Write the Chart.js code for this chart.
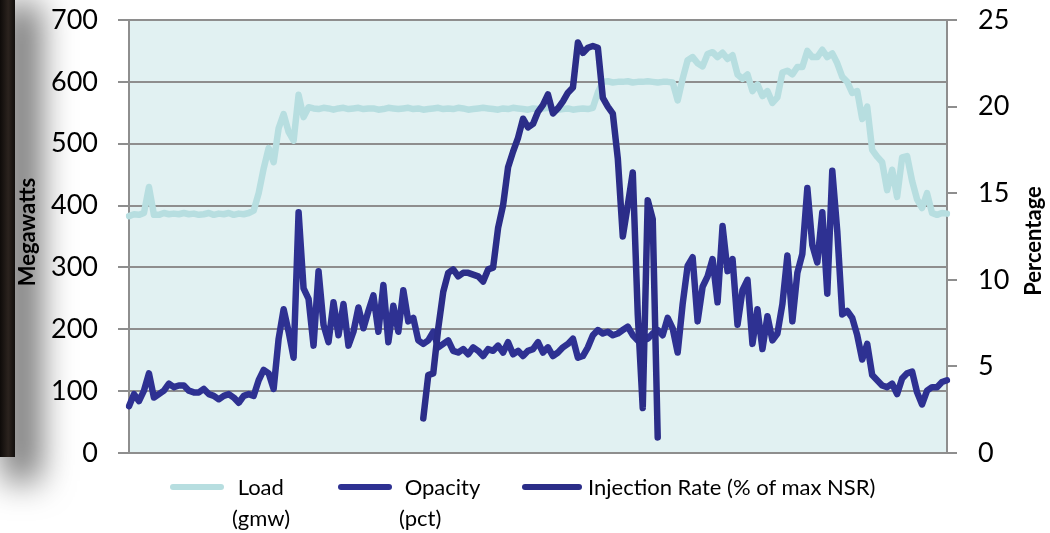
<!DOCTYPE html>
<html>
<head>
<meta charset="utf-8">
<script src="https://cdn.jsdelivr.net/npm/chart.js@4/dist/chart.umd.min.js"></script>
<style>
  body { margin: 0; background: #fff; }
  #wrap { position: relative; width: 1050px; height: 533px; overflow: hidden; }
  #edge { position: absolute; left: 0; top: 0; width: 15px; height: 457px;
          background: linear-gradient(to right, #0e0b09, #2b231e 55%, #120f0d);
          box-shadow: 14px 14px 34px 10px rgba(0,0,0,0.6); }
  canvas { position: absolute; left: 0; top: 0; }
  .leg { position: absolute; font-family: Lato, sans-serif; font-size: 22px; color: #000; line-height: 31px; }
  .sw { position: absolute; height: 6px; border-radius: 3px; }
</style>
</head>
<body>
<div id="wrap">
  <div id="edge"></div>
  <canvas id="chart" width="1050" height="533"></canvas>
  <div class="sw" style="left:170px; top:484px; width:54px; background:#b7dee0"></div>
  <div class="leg" style="left:232px; top:471px">&nbsp;Load<br>(gmw)</div>
  <div class="sw" style="left:338px; top:484px; width:54px; background:#2e3192"></div>
  <div class="leg" style="left:399px; top:471px">&nbsp;Opacity<br>(pct)</div>
  <div class="sw" style="left:522px; top:484px; width:60px; background:#2b2d88"></div>
  <div class="leg" style="left:588px; top:471px">Injection Rate (% of max NSR)</div>
</div>
<script>
// samples across the test period (one every ~5 px of the original plot)
const loadMW = [
  383,386,385,388,430,385,385,388,386,387,386,388,386,387,385,386,388,385,387,386,388,385,387,386,388,
  392,420,460,493,470,525,548,519,505,579,543,559,
  557,556,558,557,555,557,558,556,557,558,
  556,557,557,555,556,558,557,556,557,558,
  556,557,555,556,557,558,556,557,556,558,
  557,555,556,557,558,557,556,555,557,556,
  558,557,556,555,557,556,557,558,556,555,
  556,557,555,556,557,556,
  558,583,600,601,599,600,600,601,599,600,600,601,600,599,600,600,599,
  570,605,635,640,630,625,645,648,640,647,637,643,612,605,612,585,596,577,585,566,575,615,618,612,624,624,650,640,
  640,652,640,646,630,608,600,582,585,540,560,490,479,470,425,458,414,478,480,440,410,396,420,388,385,388,387
];
const opacityPct = [
  2.7,3.4,3.0,3.6,4.6,3.2,3.4,3.6,4.0,3.8,3.9,3.9,3.6,3.5,3.5,3.7,3.4,3.3,3.1,3.3,3.4,3.2,2.9,3.3,3.4,3.3,
  4.2,4.8,4.6,3.7,6.6,8.3,7.0,5.5,13.9,9.5,8.9,6.2,
  10.5,7.4,6.4,8.7,6.8,8.6,6.2,7.0,8.4,7.2,8.2,9.1,7.0,9.7,6.4,8.5,7.0,9.4,7.6,7.8,6.5,
  6.3,6.5,7.0,6.1,6.3,6.5,5.9,5.8,6.0,5.7,6.1,5.9,5.6,6.0,5.9,6.2,5.8,6.4,5.7,5.9,5.6,5.9,6.0,
  6.4,5.8,6.1,5.6,5.8,6.1,6.3,6.6,5.5,5.6,6.1,6.8,7.1,6.9,7.0,6.8,6.9,7.1,7.3,6.8,6.5,6.9,6.6,6.9,7.1,6.8,7.8,7.2,5.8,
  8.6,10.8,11.3,7.6,9.6,10.2,11.2,8.7,13.1,10.5,11.2,7.4,9.4,10.0,6.3,8.3,6.0,7.9,6.5,6.9,8.6,11.4,7.6,10.4,11.5,15.3,12.0,
  11.0,13.9,9.2,16.3,12.8,8.0,8.2,7.8,6.8,5.4,6.3,4.5,4.2,3.9,3.8,4.0,3.4,4.3,4.6,4.7,3.5,2.8,3.6,3.8,3.8,4.1,4.2
];
// injection only runs for part of the period
const injectionStart = 59;
const injectionPct = [
  2.0,4.5,4.6,7.2,9.3,10.4,10.6,10.2,10.4,10.4,10.3,10.2,9.9,10.6,10.7,13.0,14.3,16.5,17.4,18.2,19.3,18.8,19.0,19.7,
  20.1,20.7,19.6,19.9,20.3,20.8,21.1,23.7,23.1,23.4,23.5,23.4,20.5,20.0,19.6,17.0,12.5,14.3,16.2,8.0,2.6,14.6,13.5,0.9
];
const mwTicks = [0, 100, 200, 300, 400, 500, 600, 700];
const pctTicks = [0, 5, 10, 15, 20, 25];

const labels = loadMW.map((_, i) => i + 1);
const injection = labels.map((_, i) => {
  const k = i - injectionStart;
  return k >= 0 && k < injectionPct.length ? injectionPct[k] : null;
});

const gridGray = '#8e8e8e';
const tickFont = { family: 'Lato', size: 27 };

const plotBg = {
  id: 'plotBg',
  beforeDraw(chart) {
    const a = chart.chartArea, ctx = chart.ctx;
    ctx.save();
    ctx.fillStyle = '#e1f1f2';
    ctx.fillRect(a.left, a.top, a.right - a.left, a.bottom - a.top);
    ctx.restore();
  }
};

const axisTitles = {
  id: 'axisTitles',
  afterDraw(chart) {
    const ctx = chart.ctx;
    [['Megawatts', 28, 232], ['Percentage', 1034, 241]].forEach(([t, x, y]) => {
      ctx.save();
      ctx.font = 'bold 22px Lato';
      ctx.fillStyle = '#000';
      ctx.textAlign = 'center';
      ctx.textBaseline = 'middle';
      ctx.translate(x, y);
      ctx.rotate(-Math.PI / 2);
      ctx.fillText(t, 0, 0);
      ctx.restore();
    });
  }
};

// fixed axis boxes so the plot sits at 129..947 x 20..453
function fitLeft(s) { s.width = 129; s.paddingTop = 0; s.paddingBottom = 0; }
function fitRight(s) { s.width = 103; s.paddingTop = 0; s.paddingBottom = 0; }

const lineStyle = { borderWidth: 6.5, pointRadius: 0, tension: 0, borderJoinStyle: 'round', borderCapStyle: 'round' };

new Chart(document.getElementById('chart'), {
  type: 'line',
  data: {
    labels: labels,
    datasets: [
      { label: 'Load (gmw)', data: loadMW, yAxisID: 'y', borderColor: '#b7dee0', order: 3, ...lineStyle },
      { label: 'Opacity (pct)', data: opacityPct, yAxisID: 'y1', borderColor: '#2e3192', order: 2, ...lineStyle },
      { label: 'Injection Rate (% of max NSR)', data: injection, yAxisID: 'y1', borderColor: '#2b2d88', order: 1, ...lineStyle }
    ]
  },
  options: {
    responsive: false,
    animation: false,
    layout: { padding: { left: 0, right: 0, top: 20, bottom: 80 } },
    plugins: { legend: { display: false }, tooltip: { enabled: false } },
    scales: {
      x: { display: false, offset: false },
      y: {
        position: 'left',
        min: 0, max: 700,
        afterFit: fitLeft,
        afterBuildTicks(s) { s.ticks = mwTicks.map(v => ({ value: v })); },
        ticks: { font: tickFont, color: '#000', padding: 20 },
        grid: { color: gridGray, lineWidth: 2, tickLength: 11, tickColor: gridGray },
        border: { display: true, color: gridGray, width: 2 }
      },
      y1: {
        position: 'right',
        min: 0, max: 25,
        afterFit: fitRight,
        afterBuildTicks(s) { s.ticks = pctTicks.map(v => ({ value: v })); },
        ticks: { font: tickFont, color: '#000', padding: 21 },
        grid: { drawOnChartArea: false, color: gridGray, lineWidth: 2, tickLength: 10, tickColor: gridGray },
        border: { display: true, color: gridGray, width: 2 }
      }
    }
  },
  plugins: [plotBg, axisTitles]
});
</script>
</body>
</html>
